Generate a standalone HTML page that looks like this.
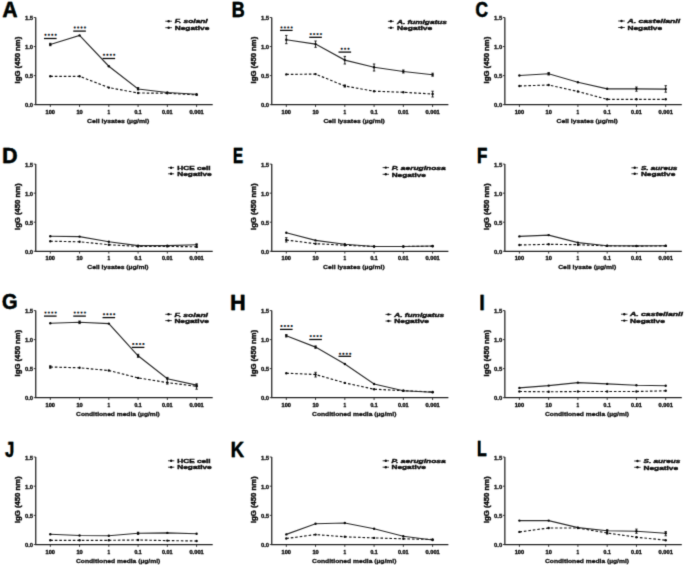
<!DOCTYPE html>
<html><head><meta charset="utf-8"><title>IgG ELISA panels</title>
<style>
html,body{margin:0;padding:0;background:#fff;}
body{width:685px;height:565px;overflow:hidden;}
svg{display:block;}
text{font-family:"Liberation Sans",sans-serif;font-weight:bold;fill:#111;}
.L{font-size:22.5px;fill:#000;stroke:#000;stroke-width:0.3px;}
.yl{font-size:4.5px;text-anchor:end;fill:#151515;stroke:#151515;stroke-width:0.3px;}
.xl{font-size:5.0px;text-anchor:middle;fill:#111;stroke:#111;stroke-width:0.35px;}
.xt{font-size:5.6px;fill:#111;stroke:#111;stroke-width:0.3px;}
.yt{font-size:7.1px;text-anchor:middle;fill:#111;stroke:#111;stroke-width:0.45px;}
.lg{font-size:5.9px;fill:#111;stroke:#111;stroke-width:0.4px;}
.it{font-style:italic;}
.ax{fill:none;stroke:#222;stroke-width:1.25;}
.tk{fill:none;stroke:#222;stroke-width:0.9;}
.sl{fill:none;stroke:#2a2a2a;stroke-width:1.15;}
.dl{fill:none;stroke:#151515;stroke-width:1.15;stroke-dasharray:2.6 1.9;}
.eb{fill:none;stroke:#111;stroke-width:0.9;}
.mk{fill:#0a0a0a;}
.sb{fill:none;stroke:#0a0a0a;stroke-width:1.3;}
.st{fill:#4a3a5a;}
.ls{fill:none;stroke:#222;stroke-width:0.9;}
</style></head>
<body><svg width="685" height="565" viewBox="0 0 685 565">
<defs><filter id="bl" x="0" y="0" width="685" height="565" filterUnits="userSpaceOnUse" color-interpolation-filters="sRGB"><feConvolveMatrix order="3" kernelMatrix="0.0143 0.0910 0.0143 0.0910 0.5785 0.0910 0.0143 0.0910 0.0143" edgeMode="duplicate"/></filter></defs>
<g filter="url(#bl)"><rect width="685" height="565" fill="#fff"/>
<g>
<text class="L" style="fill:#f0a050;stroke:#f0a050" transform="translate(1.78 16.5) scale(0.929 1)">A</text>
<text class="L" style="fill:#50b8f8;stroke:#50b8f8" transform="translate(2.98 16.5) scale(0.929 1)">A</text>
<text class="L" transform="translate(2.38 16.5) scale(0.929 1)">A</text>
<path class="ax" d="M35.75 17.5V104.65H212.7"/>
<path class="tk" d="M33.75 17.5H35.75M33.75 46.55H35.75M33.75 75.6H35.75M33.75 104.65H35.75M50.3 104.65V106.95M79.56 104.65V106.95M108.82 104.65V106.95M138.08 104.65V106.95M167.34 104.65V106.95M196.6 104.65V106.95"/>
<text class="yl" x="33.15" y="20.1" textLength="8.2" lengthAdjust="spacingAndGlyphs">1.5</text>
<text class="yl" x="33.15" y="49.15" textLength="8.2" lengthAdjust="spacingAndGlyphs">1.0</text>
<text class="yl" x="33.15" y="78.2" textLength="8.2" lengthAdjust="spacingAndGlyphs">0.5</text>
<text class="yl" x="33.15" y="107.25" textLength="8.2" lengthAdjust="spacingAndGlyphs">0.0</text>
<text class="xl" x="50.3" y="113.65" textLength="9.4" lengthAdjust="spacingAndGlyphs">100</text>
<text class="xl" x="79.56" y="113.65" textLength="6.3" lengthAdjust="spacingAndGlyphs">10</text>
<text class="xl" x="108.82" y="113.65" textLength="2.6" lengthAdjust="spacingAndGlyphs">1</text>
<text class="xl" x="138.08" y="113.65" textLength="7.2" lengthAdjust="spacingAndGlyphs">0.1</text>
<text class="xl" x="167.34" y="113.65" textLength="10.6" lengthAdjust="spacingAndGlyphs">0.01</text>
<text class="xl" x="196.6" y="113.65" textLength="14.3" lengthAdjust="spacingAndGlyphs">0.001</text>
<text class="xt" x="87" y="122.65" textLength="62.3" lengthAdjust="spacingAndGlyphs">Cell lysates (µg/ml)</text>
<text class="yt" transform="translate(20.05 60.08) rotate(-90)" x="0" y="0" textLength="46.6" lengthAdjust="spacingAndGlyphs">IgG (450 nm)</text>
<path class="dl" d="M50.3 76.3 L79.56 76.3 L108.82 87.6 L138.08 93 L167.34 93.2 L196.6 94.9"/>
<path class="sl" d="M50.3 44.5 L79.56 35.4 L108.82 66.2 L138.08 89 L167.34 92.5 L196.6 94.2"/>
<path class="eb" d="M50.3 43.3V45.7M49.1 43.3H51.5M49.1 45.7H51.5M138.08 87.5V89.9M136.88 87.5H139.28M136.88 89.9H139.28"/>
<circle class="mk" cx="50.3" cy="76.3" r="1.2"/>
<circle class="mk" cx="79.56" cy="76.3" r="1.2"/>
<circle class="mk" cx="108.82" cy="87.6" r="1.2"/>
<circle class="mk" cx="138.08" cy="93" r="1.2"/>
<circle class="mk" cx="167.34" cy="93.2" r="1.2"/>
<circle class="mk" cx="196.6" cy="94.9" r="1.2"/>
<circle class="mk" cx="50.3" cy="44.5" r="1.2"/>
<circle class="mk" cx="79.56" cy="35.4" r="1.2"/>
<circle class="mk" cx="108.82" cy="66.2" r="1.2"/>
<circle class="mk" cx="138.08" cy="89" r="1.2"/>
<circle class="mk" cx="167.34" cy="92.5" r="1.2"/>
<circle class="mk" cx="196.6" cy="94.2" r="1.2"/>
<path class="sb" d="M44 38.5H56.6"/>
<ellipse fill="#e8802a" cx="44.9" cy="34.8" rx="0.8" ry="1.0"/><ellipse fill="#28a8f0" cx="46.1" cy="34.8" rx="0.8" ry="1.0"/><ellipse fill="#1a0a1a" cx="45.5" cy="34.8" rx="0.7" ry="0.95"/>
<ellipse fill="#e8802a" cx="48.3" cy="34.8" rx="0.8" ry="1.0"/><ellipse fill="#28a8f0" cx="49.5" cy="34.8" rx="0.8" ry="1.0"/><ellipse fill="#1a0a1a" cx="48.9" cy="34.8" rx="0.7" ry="0.95"/>
<ellipse fill="#e8802a" cx="51.7" cy="34.8" rx="0.8" ry="1.0"/><ellipse fill="#28a8f0" cx="52.9" cy="34.8" rx="0.8" ry="1.0"/><ellipse fill="#1a0a1a" cx="52.3" cy="34.8" rx="0.7" ry="0.95"/>
<ellipse fill="#e8802a" cx="55.1" cy="34.8" rx="0.8" ry="1.0"/><ellipse fill="#28a8f0" cx="56.3" cy="34.8" rx="0.8" ry="1.0"/><ellipse fill="#1a0a1a" cx="55.7" cy="34.8" rx="0.7" ry="0.95"/>
<path class="sb" d="M73.26 31.1H85.86"/>
<ellipse fill="#e8802a" cx="74.16" cy="27.5" rx="0.8" ry="1.0"/><ellipse fill="#28a8f0" cx="75.36" cy="27.5" rx="0.8" ry="1.0"/><ellipse fill="#1a0a1a" cx="74.76" cy="27.5" rx="0.7" ry="0.95"/>
<ellipse fill="#e8802a" cx="77.56" cy="27.5" rx="0.8" ry="1.0"/><ellipse fill="#28a8f0" cx="78.76" cy="27.5" rx="0.8" ry="1.0"/><ellipse fill="#1a0a1a" cx="78.16" cy="27.5" rx="0.7" ry="0.95"/>
<ellipse fill="#e8802a" cx="80.96" cy="27.5" rx="0.8" ry="1.0"/><ellipse fill="#28a8f0" cx="82.16" cy="27.5" rx="0.8" ry="1.0"/><ellipse fill="#1a0a1a" cx="81.56" cy="27.5" rx="0.7" ry="0.95"/>
<ellipse fill="#e8802a" cx="84.36" cy="27.5" rx="0.8" ry="1.0"/><ellipse fill="#28a8f0" cx="85.56" cy="27.5" rx="0.8" ry="1.0"/><ellipse fill="#1a0a1a" cx="84.96" cy="27.5" rx="0.7" ry="0.95"/>
<path class="sb" d="M102.52 58.5H115.12"/>
<ellipse fill="#e8802a" cx="103.42" cy="54.8" rx="0.8" ry="1.0"/><ellipse fill="#28a8f0" cx="104.62" cy="54.8" rx="0.8" ry="1.0"/><ellipse fill="#1a0a1a" cx="104.02" cy="54.8" rx="0.7" ry="0.95"/>
<ellipse fill="#e8802a" cx="106.82" cy="54.8" rx="0.8" ry="1.0"/><ellipse fill="#28a8f0" cx="108.02" cy="54.8" rx="0.8" ry="1.0"/><ellipse fill="#1a0a1a" cx="107.42" cy="54.8" rx="0.7" ry="0.95"/>
<ellipse fill="#e8802a" cx="110.22" cy="54.8" rx="0.8" ry="1.0"/><ellipse fill="#28a8f0" cx="111.42" cy="54.8" rx="0.8" ry="1.0"/><ellipse fill="#1a0a1a" cx="110.82" cy="54.8" rx="0.7" ry="0.95"/>
<ellipse fill="#e8802a" cx="113.62" cy="54.8" rx="0.8" ry="1.0"/><ellipse fill="#28a8f0" cx="114.82" cy="54.8" rx="0.8" ry="1.0"/><ellipse fill="#1a0a1a" cx="114.22" cy="54.8" rx="0.7" ry="0.95"/>
<text class="lg it" x="174.8" y="23.4" textLength="32.9" lengthAdjust="spacingAndGlyphs">F. solani</text>
<text class="lg" x="174.8" y="29.9" textLength="34.5" lengthAdjust="spacingAndGlyphs">Negative</text>
<path class="ls" d="M165.3 21.2H172M165.3 27.7H172"/>
<circle class="mk" cx="168.65" cy="21.2" r="1.2"/><circle class="mk" cx="168.65" cy="27.7" r="1.2"/>
</g>
<g>
<text class="L" style="fill:#f0a050;stroke:#f0a050" transform="translate(231.17 16.7) scale(0.803 1)">B</text>
<text class="L" style="fill:#50b8f8;stroke:#50b8f8" transform="translate(232.37 16.7) scale(0.803 1)">B</text>
<text class="L" transform="translate(231.77 16.7) scale(0.803 1)">B</text>
<path class="ax" d="M271.75 17.5V104.65H448.4"/>
<path class="tk" d="M269.75 17.5H271.75M269.75 46.55H271.75M269.75 75.6H271.75M269.75 104.65H271.75M286.3 104.65V106.95M315.56 104.65V106.95M344.82 104.65V106.95M374.08 104.65V106.95M403.34 104.65V106.95M432.6 104.65V106.95"/>
<text class="yl" x="269.15" y="20.1" textLength="8.2" lengthAdjust="spacingAndGlyphs">1.5</text>
<text class="yl" x="269.15" y="49.15" textLength="8.2" lengthAdjust="spacingAndGlyphs">1.0</text>
<text class="yl" x="269.15" y="78.2" textLength="8.2" lengthAdjust="spacingAndGlyphs">0.5</text>
<text class="yl" x="269.15" y="107.25" textLength="8.2" lengthAdjust="spacingAndGlyphs">0.0</text>
<text class="xl" x="286.3" y="113.65" textLength="9.4" lengthAdjust="spacingAndGlyphs">100</text>
<text class="xl" x="315.56" y="113.65" textLength="6.3" lengthAdjust="spacingAndGlyphs">10</text>
<text class="xl" x="344.82" y="113.65" textLength="2.6" lengthAdjust="spacingAndGlyphs">1</text>
<text class="xl" x="374.08" y="113.65" textLength="7.2" lengthAdjust="spacingAndGlyphs">0.1</text>
<text class="xl" x="403.34" y="113.65" textLength="10.6" lengthAdjust="spacingAndGlyphs">0.01</text>
<text class="xl" x="432.6" y="113.65" textLength="14.3" lengthAdjust="spacingAndGlyphs">0.001</text>
<text class="xt" x="323.4" y="122.65" textLength="61.5" lengthAdjust="spacingAndGlyphs">Cell lysates (µg/ml)</text>
<text class="yt" transform="translate(256.05 60.08) rotate(-90)" x="0" y="0" textLength="46.6" lengthAdjust="spacingAndGlyphs">IgG (450 nm)</text>
<path class="dl" d="M286.3 74.4 L315.56 74.1 L344.82 86 L374.08 91.2 L403.34 92.3 L432.6 94"/>
<path class="sl" d="M286.3 39.7 L315.56 44.1 L344.82 60.1 L374.08 67.3 L403.34 71.5 L432.6 74.7"/>
<path class="eb" d="M286.3 35.4V43.7M285.1 35.4H287.5M285.1 43.7H287.5M315.56 41V47.3M314.36 41H316.76M314.36 47.3H316.76M344.82 56.4V64M343.62 56.4H346.02M343.62 64H346.02M374.08 64V71M372.88 64H375.28M372.88 71H375.28M403.34 70V73M402.14 70H404.54M402.14 73H404.54M432.6 73.2V76.2M431.4 73.2H433.8M431.4 76.2H433.8M432.6 91.2V97M431.4 91.2H433.8M431.4 97H433.8M344.82 85V87M343.62 85H346.02M343.62 87H346.02"/>
<circle class="mk" cx="286.3" cy="74.4" r="1.2"/>
<circle class="mk" cx="315.56" cy="74.1" r="1.2"/>
<circle class="mk" cx="344.82" cy="86" r="1.2"/>
<circle class="mk" cx="374.08" cy="91.2" r="1.2"/>
<circle class="mk" cx="403.34" cy="92.3" r="1.2"/>
<circle class="mk" cx="432.6" cy="94" r="1.2"/>
<circle class="mk" cx="286.3" cy="39.7" r="1.2"/>
<circle class="mk" cx="315.56" cy="44.1" r="1.2"/>
<circle class="mk" cx="344.82" cy="60.1" r="1.2"/>
<circle class="mk" cx="374.08" cy="67.3" r="1.2"/>
<circle class="mk" cx="403.34" cy="71.5" r="1.2"/>
<circle class="mk" cx="432.6" cy="74.7" r="1.2"/>
<path class="sb" d="M280 30.4H292.6"/>
<ellipse fill="#e8802a" cx="280.9" cy="27.4" rx="0.8" ry="1.0"/><ellipse fill="#28a8f0" cx="282.1" cy="27.4" rx="0.8" ry="1.0"/><ellipse fill="#1a0a1a" cx="281.5" cy="27.4" rx="0.7" ry="0.95"/>
<ellipse fill="#e8802a" cx="284.3" cy="27.4" rx="0.8" ry="1.0"/><ellipse fill="#28a8f0" cx="285.5" cy="27.4" rx="0.8" ry="1.0"/><ellipse fill="#1a0a1a" cx="284.9" cy="27.4" rx="0.7" ry="0.95"/>
<ellipse fill="#e8802a" cx="287.7" cy="27.4" rx="0.8" ry="1.0"/><ellipse fill="#28a8f0" cx="288.9" cy="27.4" rx="0.8" ry="1.0"/><ellipse fill="#1a0a1a" cx="288.3" cy="27.4" rx="0.7" ry="0.95"/>
<ellipse fill="#e8802a" cx="291.1" cy="27.4" rx="0.8" ry="1.0"/><ellipse fill="#28a8f0" cx="292.3" cy="27.4" rx="0.8" ry="1.0"/><ellipse fill="#1a0a1a" cx="291.7" cy="27.4" rx="0.7" ry="0.95"/>
<path class="sb" d="M309.26 37.3H321.86"/>
<ellipse fill="#e8802a" cx="310.16" cy="34.1" rx="0.8" ry="1.0"/><ellipse fill="#28a8f0" cx="311.36" cy="34.1" rx="0.8" ry="1.0"/><ellipse fill="#1a0a1a" cx="310.76" cy="34.1" rx="0.7" ry="0.95"/>
<ellipse fill="#e8802a" cx="313.56" cy="34.1" rx="0.8" ry="1.0"/><ellipse fill="#28a8f0" cx="314.76" cy="34.1" rx="0.8" ry="1.0"/><ellipse fill="#1a0a1a" cx="314.16" cy="34.1" rx="0.7" ry="0.95"/>
<ellipse fill="#e8802a" cx="316.96" cy="34.1" rx="0.8" ry="1.0"/><ellipse fill="#28a8f0" cx="318.16" cy="34.1" rx="0.8" ry="1.0"/><ellipse fill="#1a0a1a" cx="317.56" cy="34.1" rx="0.7" ry="0.95"/>
<ellipse fill="#e8802a" cx="320.36" cy="34.1" rx="0.8" ry="1.0"/><ellipse fill="#28a8f0" cx="321.56" cy="34.1" rx="0.8" ry="1.0"/><ellipse fill="#1a0a1a" cx="320.96" cy="34.1" rx="0.7" ry="0.95"/>
<path class="sb" d="M338.52 52.1H351.12"/>
<ellipse fill="#e8802a" cx="341.12" cy="48.8" rx="0.8" ry="1.0"/><ellipse fill="#28a8f0" cx="342.32" cy="48.8" rx="0.8" ry="1.0"/><ellipse fill="#1a0a1a" cx="341.72" cy="48.8" rx="0.7" ry="0.95"/>
<ellipse fill="#e8802a" cx="344.52" cy="48.8" rx="0.8" ry="1.0"/><ellipse fill="#28a8f0" cx="345.72" cy="48.8" rx="0.8" ry="1.0"/><ellipse fill="#1a0a1a" cx="345.12" cy="48.8" rx="0.7" ry="0.95"/>
<ellipse fill="#e8802a" cx="347.92" cy="48.8" rx="0.8" ry="1.0"/><ellipse fill="#28a8f0" cx="349.12" cy="48.8" rx="0.8" ry="1.0"/><ellipse fill="#1a0a1a" cx="348.52" cy="48.8" rx="0.7" ry="0.95"/>
<text class="lg it" x="397" y="23.5" textLength="49.8" lengthAdjust="spacingAndGlyphs">A. fumigatus</text>
<text class="lg" x="397" y="30" textLength="35.2" lengthAdjust="spacingAndGlyphs">Negative</text>
<path class="ls" d="M387.9 21.3H393.9M387.9 27.8H393.9"/>
<circle class="mk" cx="390.9" cy="21.3" r="1.2"/><circle class="mk" cx="390.9" cy="27.8" r="1.2"/>
</g>
<g>
<text class="L" style="fill:#f0a050;stroke:#f0a050" transform="translate(474.8 16.7) scale(0.774 1)">C</text>
<text class="L" style="fill:#50b8f8;stroke:#50b8f8" transform="translate(476 16.7) scale(0.774 1)">C</text>
<text class="L" transform="translate(475.4 16.7) scale(0.774 1)">C</text>
<path class="ax" d="M504.85 17.5V104.65H681.8"/>
<path class="tk" d="M502.85 17.5H504.85M502.85 46.55H504.85M502.85 75.6H504.85M502.85 104.65H504.85M519.4 104.65V106.95M548.66 104.65V106.95M577.92 104.65V106.95M607.18 104.65V106.95M636.44 104.65V106.95M665.7 104.65V106.95"/>
<text class="yl" x="502.25" y="20.1" textLength="8.2" lengthAdjust="spacingAndGlyphs">1.5</text>
<text class="yl" x="502.25" y="49.15" textLength="8.2" lengthAdjust="spacingAndGlyphs">1.0</text>
<text class="yl" x="502.25" y="78.2" textLength="8.2" lengthAdjust="spacingAndGlyphs">0.5</text>
<text class="yl" x="502.25" y="107.25" textLength="8.2" lengthAdjust="spacingAndGlyphs">0.0</text>
<text class="xl" x="519.4" y="113.65" textLength="9.4" lengthAdjust="spacingAndGlyphs">100</text>
<text class="xl" x="548.66" y="113.65" textLength="6.3" lengthAdjust="spacingAndGlyphs">10</text>
<text class="xl" x="577.92" y="113.65" textLength="2.6" lengthAdjust="spacingAndGlyphs">1</text>
<text class="xl" x="607.18" y="113.65" textLength="7.2" lengthAdjust="spacingAndGlyphs">0.1</text>
<text class="xl" x="636.44" y="113.65" textLength="10.6" lengthAdjust="spacingAndGlyphs">0.01</text>
<text class="xl" x="665.7" y="113.65" textLength="14.3" lengthAdjust="spacingAndGlyphs">0.001</text>
<text class="xt" x="556.6" y="122.65" textLength="61.2" lengthAdjust="spacingAndGlyphs">Cell lysates (µg/ml)</text>
<text class="yt" transform="translate(489.15 60.08) rotate(-90)" x="0" y="0" textLength="46.6" lengthAdjust="spacingAndGlyphs">IgG (450 nm)</text>
<path class="dl" d="M519.4 86 L548.66 85 L577.92 91.5 L607.18 99.3 L636.44 99.3 L665.7 99.3"/>
<path class="sl" d="M519.4 75.5 L548.66 73.8 L577.92 82.3 L607.18 88.8 L636.44 88.8 L665.7 89.1"/>
<path class="eb" d="M548.66 72.6V75M547.46 72.6H549.86M547.46 75H549.86M636.44 87V91.2M635.24 87H637.64M635.24 91.2H637.64M665.7 85.7V92.2M664.5 85.7H666.9M664.5 92.2H666.9"/>
<circle class="mk" cx="519.4" cy="86" r="1.2"/>
<circle class="mk" cx="548.66" cy="85" r="1.2"/>
<circle class="mk" cx="577.92" cy="91.5" r="1.2"/>
<circle class="mk" cx="607.18" cy="99.3" r="1.2"/>
<circle class="mk" cx="636.44" cy="99.3" r="1.2"/>
<circle class="mk" cx="665.7" cy="99.3" r="1.2"/>
<circle class="mk" cx="519.4" cy="75.5" r="1.2"/>
<circle class="mk" cx="548.66" cy="73.8" r="1.2"/>
<circle class="mk" cx="577.92" cy="82.3" r="1.2"/>
<circle class="mk" cx="607.18" cy="88.8" r="1.2"/>
<circle class="mk" cx="636.44" cy="88.8" r="1.2"/>
<circle class="mk" cx="665.7" cy="89.1" r="1.2"/>
<text class="lg it" x="627.5" y="23.2" textLength="52.6" lengthAdjust="spacingAndGlyphs">A. castellanii</text>
<text class="lg" x="627.5" y="29.7" textLength="34.5" lengthAdjust="spacingAndGlyphs">Negative</text>
<path class="ls" d="M618.2 21H624.8M618.2 27.5H624.8"/>
<circle class="mk" cx="621.5" cy="21" r="1.2"/><circle class="mk" cx="621.5" cy="27.5" r="1.2"/>
</g>
<g>
<text class="L" style="fill:#f0a050;stroke:#f0a050" transform="translate(1.56 163.3) scale(0.944 1)">D</text>
<text class="L" style="fill:#50b8f8;stroke:#50b8f8" transform="translate(2.76 163.3) scale(0.944 1)">D</text>
<text class="L" transform="translate(2.16 163.3) scale(0.944 1)">D</text>
<path class="ax" d="M35.75 164.1V251.25H212.7"/>
<path class="tk" d="M33.75 164.1H35.75M33.75 193.15H35.75M33.75 222.2H35.75M33.75 251.25H35.75M50.3 251.25V253.55M79.56 251.25V253.55M108.82 251.25V253.55M138.08 251.25V253.55M167.34 251.25V253.55M196.6 251.25V253.55"/>
<text class="yl" x="33.15" y="166.7" textLength="8.2" lengthAdjust="spacingAndGlyphs">1.5</text>
<text class="yl" x="33.15" y="195.75" textLength="8.2" lengthAdjust="spacingAndGlyphs">1.0</text>
<text class="yl" x="33.15" y="224.8" textLength="8.2" lengthAdjust="spacingAndGlyphs">0.5</text>
<text class="yl" x="33.15" y="253.85" textLength="8.2" lengthAdjust="spacingAndGlyphs">0.0</text>
<text class="xl" x="50.3" y="260.25" textLength="9.4" lengthAdjust="spacingAndGlyphs">100</text>
<text class="xl" x="79.56" y="260.25" textLength="6.3" lengthAdjust="spacingAndGlyphs">10</text>
<text class="xl" x="108.82" y="260.25" textLength="2.6" lengthAdjust="spacingAndGlyphs">1</text>
<text class="xl" x="138.08" y="260.25" textLength="7.2" lengthAdjust="spacingAndGlyphs">0.1</text>
<text class="xl" x="167.34" y="260.25" textLength="10.6" lengthAdjust="spacingAndGlyphs">0.01</text>
<text class="xl" x="196.6" y="260.25" textLength="14.3" lengthAdjust="spacingAndGlyphs">0.001</text>
<text class="xt" x="87.3" y="269.25" textLength="61.3" lengthAdjust="spacingAndGlyphs">Cell lysates (µg/ml)</text>
<text class="yt" transform="translate(20.05 206.68) rotate(-90)" x="0" y="0" textLength="46.6" lengthAdjust="spacingAndGlyphs">IgG (450 nm)</text>
<path class="dl" d="M50.3 241.2 L79.56 241.8 L108.82 244.7 L138.08 246.4 L167.34 246.4 L196.6 246.8"/>
<path class="sl" d="M50.3 236.2 L79.56 236.6 L108.82 241.8 L138.08 245.6 L167.34 245.6 L196.6 244.7"/>
<path class="eb" d="M196.6 244V247.3M195.4 244H197.8M195.4 247.3H197.8"/>
<circle class="mk" cx="50.3" cy="241.2" r="1.2"/>
<circle class="mk" cx="79.56" cy="241.8" r="1.2"/>
<circle class="mk" cx="108.82" cy="244.7" r="1.2"/>
<circle class="mk" cx="138.08" cy="246.4" r="1.2"/>
<circle class="mk" cx="167.34" cy="246.4" r="1.2"/>
<circle class="mk" cx="196.6" cy="246.8" r="1.2"/>
<circle class="mk" cx="50.3" cy="236.2" r="1.2"/>
<circle class="mk" cx="79.56" cy="236.6" r="1.2"/>
<circle class="mk" cx="108.82" cy="241.8" r="1.2"/>
<circle class="mk" cx="138.08" cy="245.6" r="1.2"/>
<circle class="mk" cx="167.34" cy="245.6" r="1.2"/>
<circle class="mk" cx="196.6" cy="244.7" r="1.2"/>
<text class="lg" x="177.3" y="169.9" textLength="33.3" lengthAdjust="spacingAndGlyphs">HCE cell</text>
<text class="lg" x="177.3" y="176" textLength="34.4" lengthAdjust="spacingAndGlyphs">Negative</text>
<path class="ls" d="M168.1 167.7H174.1M168.1 173.8H174.1"/>
<circle class="mk" cx="171.1" cy="167.7" r="1.2"/><circle class="mk" cx="171.1" cy="173.8" r="1.2"/>
</g>
<g>
<text class="L" style="fill:#f0a050;stroke:#f0a050" transform="translate(232.48 163.2) scale(0.668 1)">E</text>
<text class="L" style="fill:#50b8f8;stroke:#50b8f8" transform="translate(233.68 163.2) scale(0.668 1)">E</text>
<text class="L" transform="translate(233.08 163.2) scale(0.668 1)">E</text>
<path class="ax" d="M271.75 164.1V251.25H448.4"/>
<path class="tk" d="M269.75 164.1H271.75M269.75 193.15H271.75M269.75 222.2H271.75M269.75 251.25H271.75M286.3 251.25V253.55M315.56 251.25V253.55M344.82 251.25V253.55M374.08 251.25V253.55M403.34 251.25V253.55M432.6 251.25V253.55"/>
<text class="yl" x="269.15" y="166.7" textLength="8.2" lengthAdjust="spacingAndGlyphs">1.5</text>
<text class="yl" x="269.15" y="195.75" textLength="8.2" lengthAdjust="spacingAndGlyphs">1.0</text>
<text class="yl" x="269.15" y="224.8" textLength="8.2" lengthAdjust="spacingAndGlyphs">0.5</text>
<text class="yl" x="269.15" y="253.85" textLength="8.2" lengthAdjust="spacingAndGlyphs">0.0</text>
<text class="xl" x="286.3" y="260.25" textLength="9.4" lengthAdjust="spacingAndGlyphs">100</text>
<text class="xl" x="315.56" y="260.25" textLength="6.3" lengthAdjust="spacingAndGlyphs">10</text>
<text class="xl" x="344.82" y="260.25" textLength="2.6" lengthAdjust="spacingAndGlyphs">1</text>
<text class="xl" x="374.08" y="260.25" textLength="7.2" lengthAdjust="spacingAndGlyphs">0.1</text>
<text class="xl" x="403.34" y="260.25" textLength="10.6" lengthAdjust="spacingAndGlyphs">0.01</text>
<text class="xl" x="432.6" y="260.25" textLength="14.3" lengthAdjust="spacingAndGlyphs">0.001</text>
<text class="xt" x="323.1" y="269.25" textLength="61.6" lengthAdjust="spacingAndGlyphs">Cell lysates (µg/ml)</text>
<text class="yt" transform="translate(256.05 206.68) rotate(-90)" x="0" y="0" textLength="46.6" lengthAdjust="spacingAndGlyphs">IgG (450 nm)</text>
<path class="dl" d="M286.3 240 L315.56 243.7 L344.82 245.2 L374.08 246.5 L403.34 246.5 L432.6 246.2"/>
<path class="sl" d="M286.3 232.7 L315.56 240.4 L344.82 244.3 L374.08 246.5 L403.34 246.5 L432.6 246"/>
<path class="eb" d="M286.3 237.7V242M285.1 237.7H287.5M285.1 242H287.5"/>
<circle class="mk" cx="286.3" cy="240" r="1.2"/>
<circle class="mk" cx="315.56" cy="243.7" r="1.2"/>
<circle class="mk" cx="344.82" cy="245.2" r="1.2"/>
<circle class="mk" cx="374.08" cy="246.5" r="1.2"/>
<circle class="mk" cx="403.34" cy="246.5" r="1.2"/>
<circle class="mk" cx="432.6" cy="246.2" r="1.2"/>
<circle class="mk" cx="286.3" cy="232.7" r="1.2"/>
<circle class="mk" cx="315.56" cy="240.4" r="1.2"/>
<circle class="mk" cx="344.82" cy="244.3" r="1.2"/>
<circle class="mk" cx="374.08" cy="246.5" r="1.2"/>
<circle class="mk" cx="403.34" cy="246.5" r="1.2"/>
<circle class="mk" cx="432.6" cy="246" r="1.2"/>
<text class="lg it" x="391.7" y="169.8" textLength="54" lengthAdjust="spacingAndGlyphs">P. aeruginosa</text>
<text class="lg" x="391.7" y="176.5" textLength="34.1" lengthAdjust="spacingAndGlyphs">Negative</text>
<path class="ls" d="M382.6 167.6H389M382.6 174.3H389"/>
<circle class="mk" cx="385.8" cy="167.6" r="1.2"/><circle class="mk" cx="385.8" cy="174.3" r="1.2"/>
</g>
<g>
<text class="L" style="fill:#f0a050;stroke:#f0a050" transform="translate(476.35 163.2) scale(0.754 1)">F</text>
<text class="L" style="fill:#50b8f8;stroke:#50b8f8" transform="translate(477.55 163.2) scale(0.754 1)">F</text>
<text class="L" transform="translate(476.95 163.2) scale(0.754 1)">F</text>
<path class="ax" d="M504.85 164.1V251.25H681.8"/>
<path class="tk" d="M502.85 164.1H504.85M502.85 193.15H504.85M502.85 222.2H504.85M502.85 251.25H504.85M519.4 251.25V253.55M548.66 251.25V253.55M577.92 251.25V253.55M607.18 251.25V253.55M636.44 251.25V253.55M665.7 251.25V253.55"/>
<text class="yl" x="502.25" y="166.7" textLength="8.2" lengthAdjust="spacingAndGlyphs">1.5</text>
<text class="yl" x="502.25" y="195.75" textLength="8.2" lengthAdjust="spacingAndGlyphs">1.0</text>
<text class="yl" x="502.25" y="224.8" textLength="8.2" lengthAdjust="spacingAndGlyphs">0.5</text>
<text class="yl" x="502.25" y="253.85" textLength="8.2" lengthAdjust="spacingAndGlyphs">0.0</text>
<text class="xl" x="519.4" y="260.25" textLength="9.4" lengthAdjust="spacingAndGlyphs">100</text>
<text class="xl" x="548.66" y="260.25" textLength="6.3" lengthAdjust="spacingAndGlyphs">10</text>
<text class="xl" x="577.92" y="260.25" textLength="2.6" lengthAdjust="spacingAndGlyphs">1</text>
<text class="xl" x="607.18" y="260.25" textLength="7.2" lengthAdjust="spacingAndGlyphs">0.1</text>
<text class="xl" x="636.44" y="260.25" textLength="10.6" lengthAdjust="spacingAndGlyphs">0.01</text>
<text class="xl" x="665.7" y="260.25" textLength="14.3" lengthAdjust="spacingAndGlyphs">0.001</text>
<text class="xt" x="558.2" y="269.25" textLength="58" lengthAdjust="spacingAndGlyphs">Cell lysate (µg/ml)</text>
<text class="yt" transform="translate(489.15 206.68) rotate(-90)" x="0" y="0" textLength="46.6" lengthAdjust="spacingAndGlyphs">IgG (450 nm)</text>
<path class="dl" d="M519.4 245 L548.66 244.3 L577.92 244.7 L607.18 245.9 L636.44 246.1 L665.7 245.9"/>
<path class="sl" d="M519.4 236.4 L548.66 235.1 L577.92 242.6 L607.18 245.7 L636.44 245.9 L665.7 245.7"/>
<circle class="mk" cx="519.4" cy="245" r="1.2"/>
<circle class="mk" cx="548.66" cy="244.3" r="1.2"/>
<circle class="mk" cx="577.92" cy="244.7" r="1.2"/>
<circle class="mk" cx="607.18" cy="245.9" r="1.2"/>
<circle class="mk" cx="636.44" cy="246.1" r="1.2"/>
<circle class="mk" cx="665.7" cy="245.9" r="1.2"/>
<circle class="mk" cx="519.4" cy="236.4" r="1.2"/>
<circle class="mk" cx="548.66" cy="235.1" r="1.2"/>
<circle class="mk" cx="577.92" cy="242.6" r="1.2"/>
<circle class="mk" cx="607.18" cy="245.7" r="1.2"/>
<circle class="mk" cx="636.44" cy="245.9" r="1.2"/>
<circle class="mk" cx="665.7" cy="245.7" r="1.2"/>
<text class="lg it" x="640.9" y="170" textLength="36.5" lengthAdjust="spacingAndGlyphs">S. aureus</text>
<text class="lg" x="640.9" y="176" textLength="34.4" lengthAdjust="spacingAndGlyphs">Negative</text>
<path class="ls" d="M631.4 167.8H638M631.4 173.8H638"/>
<circle class="mk" cx="634.7" cy="167.8" r="1.2"/><circle class="mk" cx="634.7" cy="173.8" r="1.2"/>
</g>
<g>
<text class="L" style="fill:#f0a050;stroke:#f0a050" transform="translate(1.3 309.3) scale(0.889 1)">G</text>
<text class="L" style="fill:#50b8f8;stroke:#50b8f8" transform="translate(2.5 309.3) scale(0.889 1)">G</text>
<text class="L" transform="translate(1.9 309.3) scale(0.889 1)">G</text>
<path class="ax" d="M35.75 310.6V397.65H212.7"/>
<path class="tk" d="M33.75 310.6H35.75M33.75 339.62H35.75M33.75 368.63H35.75M33.75 397.65H35.75M50.3 397.65V399.95M79.56 397.65V399.95M108.82 397.65V399.95M138.08 397.65V399.95M167.34 397.65V399.95M196.6 397.65V399.95"/>
<text class="yl" x="33.15" y="313.2" textLength="8.2" lengthAdjust="spacingAndGlyphs">1.5</text>
<text class="yl" x="33.15" y="342.22" textLength="8.2" lengthAdjust="spacingAndGlyphs">1.0</text>
<text class="yl" x="33.15" y="371.23" textLength="8.2" lengthAdjust="spacingAndGlyphs">0.5</text>
<text class="yl" x="33.15" y="400.25" textLength="8.2" lengthAdjust="spacingAndGlyphs">0.0</text>
<text class="xl" x="50.3" y="406.65" textLength="9.4" lengthAdjust="spacingAndGlyphs">100</text>
<text class="xl" x="79.56" y="406.65" textLength="6.3" lengthAdjust="spacingAndGlyphs">10</text>
<text class="xl" x="108.82" y="406.65" textLength="2.6" lengthAdjust="spacingAndGlyphs">1</text>
<text class="xl" x="138.08" y="406.65" textLength="7.2" lengthAdjust="spacingAndGlyphs">0.1</text>
<text class="xl" x="167.34" y="406.65" textLength="10.6" lengthAdjust="spacingAndGlyphs">0.01</text>
<text class="xl" x="196.6" y="406.65" textLength="14.3" lengthAdjust="spacingAndGlyphs">0.001</text>
<text class="xt" x="76.1" y="415.65" textLength="83.7" lengthAdjust="spacingAndGlyphs">Conditioned media (µg/ml)</text>
<text class="yt" transform="translate(20.05 353.12) rotate(-90)" x="0" y="0" textLength="46.6" lengthAdjust="spacingAndGlyphs">IgG (450 nm)</text>
<path class="dl" d="M50.3 367 L79.56 367.8 L108.82 370.5 L138.08 377.9 L167.34 382.6 L196.6 386.3"/>
<path class="sl" d="M50.3 323.2 L79.56 322.3 L108.82 323.6 L138.08 355.8 L167.34 378.8 L196.6 385.1"/>
<path class="eb" d="M79.56 321V323.6M78.36 321H80.76M78.36 323.6H80.76M138.08 354.3V357.3M136.88 354.3H139.28M136.88 357.3H139.28M167.34 377.4V384.1M166.14 377.4H168.54M166.14 384.1H168.54M196.6 383.8V389.2M195.4 383.8H197.8M195.4 389.2H197.8M50.3 365.8V368.2M49.1 365.8H51.5M49.1 368.2H51.5"/>
<circle class="mk" cx="50.3" cy="367" r="1.2"/>
<circle class="mk" cx="79.56" cy="367.8" r="1.2"/>
<circle class="mk" cx="108.82" cy="370.5" r="1.2"/>
<circle class="mk" cx="138.08" cy="377.9" r="1.2"/>
<circle class="mk" cx="167.34" cy="382.6" r="1.2"/>
<circle class="mk" cx="196.6" cy="386.3" r="1.2"/>
<circle class="mk" cx="50.3" cy="323.2" r="1.2"/>
<circle class="mk" cx="79.56" cy="322.3" r="1.2"/>
<circle class="mk" cx="108.82" cy="323.6" r="1.2"/>
<circle class="mk" cx="138.08" cy="355.8" r="1.2"/>
<circle class="mk" cx="167.34" cy="378.8" r="1.2"/>
<circle class="mk" cx="196.6" cy="385.1" r="1.2"/>
<path class="sb" d="M44 316.1H56.6"/>
<ellipse fill="#e8802a" cx="44.9" cy="312.6" rx="0.8" ry="1.0"/><ellipse fill="#28a8f0" cx="46.1" cy="312.6" rx="0.8" ry="1.0"/><ellipse fill="#1a0a1a" cx="45.5" cy="312.6" rx="0.7" ry="0.95"/>
<ellipse fill="#e8802a" cx="48.3" cy="312.6" rx="0.8" ry="1.0"/><ellipse fill="#28a8f0" cx="49.5" cy="312.6" rx="0.8" ry="1.0"/><ellipse fill="#1a0a1a" cx="48.9" cy="312.6" rx="0.7" ry="0.95"/>
<ellipse fill="#e8802a" cx="51.7" cy="312.6" rx="0.8" ry="1.0"/><ellipse fill="#28a8f0" cx="52.9" cy="312.6" rx="0.8" ry="1.0"/><ellipse fill="#1a0a1a" cx="52.3" cy="312.6" rx="0.7" ry="0.95"/>
<ellipse fill="#e8802a" cx="55.1" cy="312.6" rx="0.8" ry="1.0"/><ellipse fill="#28a8f0" cx="56.3" cy="312.6" rx="0.8" ry="1.0"/><ellipse fill="#1a0a1a" cx="55.7" cy="312.6" rx="0.7" ry="0.95"/>
<path class="sb" d="M73.26 316.1H85.86"/>
<ellipse fill="#e8802a" cx="74.16" cy="312.6" rx="0.8" ry="1.0"/><ellipse fill="#28a8f0" cx="75.36" cy="312.6" rx="0.8" ry="1.0"/><ellipse fill="#1a0a1a" cx="74.76" cy="312.6" rx="0.7" ry="0.95"/>
<ellipse fill="#e8802a" cx="77.56" cy="312.6" rx="0.8" ry="1.0"/><ellipse fill="#28a8f0" cx="78.76" cy="312.6" rx="0.8" ry="1.0"/><ellipse fill="#1a0a1a" cx="78.16" cy="312.6" rx="0.7" ry="0.95"/>
<ellipse fill="#e8802a" cx="80.96" cy="312.6" rx="0.8" ry="1.0"/><ellipse fill="#28a8f0" cx="82.16" cy="312.6" rx="0.8" ry="1.0"/><ellipse fill="#1a0a1a" cx="81.56" cy="312.6" rx="0.7" ry="0.95"/>
<ellipse fill="#e8802a" cx="84.36" cy="312.6" rx="0.8" ry="1.0"/><ellipse fill="#28a8f0" cx="85.56" cy="312.6" rx="0.8" ry="1.0"/><ellipse fill="#1a0a1a" cx="84.96" cy="312.6" rx="0.7" ry="0.95"/>
<path class="sb" d="M102.52 317.6H115.12"/>
<ellipse fill="#e8802a" cx="103.42" cy="314.3" rx="0.8" ry="1.0"/><ellipse fill="#28a8f0" cx="104.62" cy="314.3" rx="0.8" ry="1.0"/><ellipse fill="#1a0a1a" cx="104.02" cy="314.3" rx="0.7" ry="0.95"/>
<ellipse fill="#e8802a" cx="106.82" cy="314.3" rx="0.8" ry="1.0"/><ellipse fill="#28a8f0" cx="108.02" cy="314.3" rx="0.8" ry="1.0"/><ellipse fill="#1a0a1a" cx="107.42" cy="314.3" rx="0.7" ry="0.95"/>
<ellipse fill="#e8802a" cx="110.22" cy="314.3" rx="0.8" ry="1.0"/><ellipse fill="#28a8f0" cx="111.42" cy="314.3" rx="0.8" ry="1.0"/><ellipse fill="#1a0a1a" cx="110.82" cy="314.3" rx="0.7" ry="0.95"/>
<ellipse fill="#e8802a" cx="113.62" cy="314.3" rx="0.8" ry="1.0"/><ellipse fill="#28a8f0" cx="114.82" cy="314.3" rx="0.8" ry="1.0"/><ellipse fill="#1a0a1a" cx="114.22" cy="314.3" rx="0.7" ry="0.95"/>
<path class="sb" d="M131.78 347.4H144.38"/>
<ellipse fill="#e8802a" cx="132.68" cy="343.9" rx="0.8" ry="1.0"/><ellipse fill="#28a8f0" cx="133.88" cy="343.9" rx="0.8" ry="1.0"/><ellipse fill="#1a0a1a" cx="133.28" cy="343.9" rx="0.7" ry="0.95"/>
<ellipse fill="#e8802a" cx="136.08" cy="343.9" rx="0.8" ry="1.0"/><ellipse fill="#28a8f0" cx="137.28" cy="343.9" rx="0.8" ry="1.0"/><ellipse fill="#1a0a1a" cx="136.68" cy="343.9" rx="0.7" ry="0.95"/>
<ellipse fill="#e8802a" cx="139.48" cy="343.9" rx="0.8" ry="1.0"/><ellipse fill="#28a8f0" cx="140.68" cy="343.9" rx="0.8" ry="1.0"/><ellipse fill="#1a0a1a" cx="140.08" cy="343.9" rx="0.7" ry="0.95"/>
<ellipse fill="#e8802a" cx="142.88" cy="343.9" rx="0.8" ry="1.0"/><ellipse fill="#28a8f0" cx="144.08" cy="343.9" rx="0.8" ry="1.0"/><ellipse fill="#1a0a1a" cx="143.48" cy="343.9" rx="0.7" ry="0.95"/>
<text class="lg it" x="174.4" y="316.5" textLength="33.6" lengthAdjust="spacingAndGlyphs">F. solani</text>
<text class="lg" x="174.4" y="322.8" textLength="34.5" lengthAdjust="spacingAndGlyphs">Negative</text>
<path class="ls" d="M165.3 314.3H171.8M165.3 320.6H171.8"/>
<circle class="mk" cx="168.55" cy="314.3" r="1.2"/><circle class="mk" cx="168.55" cy="320.6" r="1.2"/>
</g>
<g>
<text class="L" style="fill:#f0a050;stroke:#f0a050" transform="translate(229.55 309.9) scale(0.946 1)">H</text>
<text class="L" style="fill:#50b8f8;stroke:#50b8f8" transform="translate(230.75 309.9) scale(0.946 1)">H</text>
<text class="L" transform="translate(230.15 309.9) scale(0.946 1)">H</text>
<path class="ax" d="M271.75 310.6V397.65H448.4"/>
<path class="tk" d="M269.75 310.6H271.75M269.75 339.62H271.75M269.75 368.63H271.75M269.75 397.65H271.75M286.3 397.65V399.95M315.56 397.65V399.95M344.82 397.65V399.95M374.08 397.65V399.95M403.34 397.65V399.95M432.6 397.65V399.95"/>
<text class="yl" x="269.15" y="313.2" textLength="8.2" lengthAdjust="spacingAndGlyphs">1.5</text>
<text class="yl" x="269.15" y="342.22" textLength="8.2" lengthAdjust="spacingAndGlyphs">1.0</text>
<text class="yl" x="269.15" y="371.23" textLength="8.2" lengthAdjust="spacingAndGlyphs">0.5</text>
<text class="yl" x="269.15" y="400.25" textLength="8.2" lengthAdjust="spacingAndGlyphs">0.0</text>
<text class="xl" x="286.3" y="406.65" textLength="9.4" lengthAdjust="spacingAndGlyphs">100</text>
<text class="xl" x="315.56" y="406.65" textLength="6.3" lengthAdjust="spacingAndGlyphs">10</text>
<text class="xl" x="344.82" y="406.65" textLength="2.6" lengthAdjust="spacingAndGlyphs">1</text>
<text class="xl" x="374.08" y="406.65" textLength="7.2" lengthAdjust="spacingAndGlyphs">0.1</text>
<text class="xl" x="403.34" y="406.65" textLength="10.6" lengthAdjust="spacingAndGlyphs">0.01</text>
<text class="xl" x="432.6" y="406.65" textLength="14.3" lengthAdjust="spacingAndGlyphs">0.001</text>
<text class="xt" x="312.1" y="415.65" textLength="84.3" lengthAdjust="spacingAndGlyphs">Conditioned media (µg/ml)</text>
<text class="yt" transform="translate(256.05 353.12) rotate(-90)" x="0" y="0" textLength="46.6" lengthAdjust="spacingAndGlyphs">IgG (450 nm)</text>
<path class="dl" d="M286.3 373.2 L315.56 374.5 L344.82 382.9 L374.08 389.2 L403.34 390.7 L432.6 392"/>
<path class="sl" d="M286.3 335.8 L315.56 347.1 L344.82 364 L374.08 384 L403.34 390.7 L432.6 392.3"/>
<path class="eb" d="M286.3 334.6V337M285.1 334.6H287.5M285.1 337H287.5M315.56 345.9V348.3M314.36 345.9H316.76M314.36 348.3H316.76M315.56 372.3V377M314.36 372.3H316.76M314.36 377H316.76"/>
<circle class="mk" cx="286.3" cy="373.2" r="1.2"/>
<circle class="mk" cx="315.56" cy="374.5" r="1.2"/>
<circle class="mk" cx="344.82" cy="382.9" r="1.2"/>
<circle class="mk" cx="374.08" cy="389.2" r="1.2"/>
<circle class="mk" cx="403.34" cy="390.7" r="1.2"/>
<circle class="mk" cx="432.6" cy="392" r="1.2"/>
<circle class="mk" cx="286.3" cy="335.8" r="1.2"/>
<circle class="mk" cx="315.56" cy="347.1" r="1.2"/>
<circle class="mk" cx="344.82" cy="364" r="1.2"/>
<circle class="mk" cx="374.08" cy="384" r="1.2"/>
<circle class="mk" cx="403.34" cy="390.7" r="1.2"/>
<circle class="mk" cx="432.6" cy="392.3" r="1.2"/>
<path class="sb" d="M280 329.4H292.6"/>
<ellipse fill="#e8802a" cx="280.9" cy="326" rx="0.8" ry="1.0"/><ellipse fill="#28a8f0" cx="282.1" cy="326" rx="0.8" ry="1.0"/><ellipse fill="#1a0a1a" cx="281.5" cy="326" rx="0.7" ry="0.95"/>
<ellipse fill="#e8802a" cx="284.3" cy="326" rx="0.8" ry="1.0"/><ellipse fill="#28a8f0" cx="285.5" cy="326" rx="0.8" ry="1.0"/><ellipse fill="#1a0a1a" cx="284.9" cy="326" rx="0.7" ry="0.95"/>
<ellipse fill="#e8802a" cx="287.7" cy="326" rx="0.8" ry="1.0"/><ellipse fill="#28a8f0" cx="288.9" cy="326" rx="0.8" ry="1.0"/><ellipse fill="#1a0a1a" cx="288.3" cy="326" rx="0.7" ry="0.95"/>
<ellipse fill="#e8802a" cx="291.1" cy="326" rx="0.8" ry="1.0"/><ellipse fill="#28a8f0" cx="292.3" cy="326" rx="0.8" ry="1.0"/><ellipse fill="#1a0a1a" cx="291.7" cy="326" rx="0.7" ry="0.95"/>
<path class="sb" d="M309.26 339.5H321.86"/>
<ellipse fill="#e8802a" cx="310.16" cy="336.1" rx="0.8" ry="1.0"/><ellipse fill="#28a8f0" cx="311.36" cy="336.1" rx="0.8" ry="1.0"/><ellipse fill="#1a0a1a" cx="310.76" cy="336.1" rx="0.7" ry="0.95"/>
<ellipse fill="#e8802a" cx="313.56" cy="336.1" rx="0.8" ry="1.0"/><ellipse fill="#28a8f0" cx="314.76" cy="336.1" rx="0.8" ry="1.0"/><ellipse fill="#1a0a1a" cx="314.16" cy="336.1" rx="0.7" ry="0.95"/>
<ellipse fill="#e8802a" cx="316.96" cy="336.1" rx="0.8" ry="1.0"/><ellipse fill="#28a8f0" cx="318.16" cy="336.1" rx="0.8" ry="1.0"/><ellipse fill="#1a0a1a" cx="317.56" cy="336.1" rx="0.7" ry="0.95"/>
<ellipse fill="#e8802a" cx="320.36" cy="336.1" rx="0.8" ry="1.0"/><ellipse fill="#28a8f0" cx="321.56" cy="336.1" rx="0.8" ry="1.0"/><ellipse fill="#1a0a1a" cx="320.96" cy="336.1" rx="0.7" ry="0.95"/>
<path class="sb" d="M338.52 356.3H351.12"/>
<ellipse fill="#e8802a" cx="339.42" cy="353.8" rx="0.8" ry="1.0"/><ellipse fill="#28a8f0" cx="340.62" cy="353.8" rx="0.8" ry="1.0"/><ellipse fill="#1a0a1a" cx="340.02" cy="353.8" rx="0.7" ry="0.95"/>
<ellipse fill="#e8802a" cx="342.82" cy="353.8" rx="0.8" ry="1.0"/><ellipse fill="#28a8f0" cx="344.02" cy="353.8" rx="0.8" ry="1.0"/><ellipse fill="#1a0a1a" cx="343.42" cy="353.8" rx="0.7" ry="0.95"/>
<ellipse fill="#e8802a" cx="346.22" cy="353.8" rx="0.8" ry="1.0"/><ellipse fill="#28a8f0" cx="347.42" cy="353.8" rx="0.8" ry="1.0"/><ellipse fill="#1a0a1a" cx="346.82" cy="353.8" rx="0.7" ry="0.95"/>
<ellipse fill="#e8802a" cx="349.62" cy="353.8" rx="0.8" ry="1.0"/><ellipse fill="#28a8f0" cx="350.82" cy="353.8" rx="0.8" ry="1.0"/><ellipse fill="#1a0a1a" cx="350.22" cy="353.8" rx="0.7" ry="0.95"/>
<text class="lg it" x="394.3" y="316.6" textLength="49.9" lengthAdjust="spacingAndGlyphs">A. fumigatus</text>
<text class="lg" x="394.3" y="323.2" textLength="34.7" lengthAdjust="spacingAndGlyphs">Negative</text>
<path class="ls" d="M385.5 314.4H391.4M385.5 321H391.4"/>
<circle class="mk" cx="388.45" cy="314.4" r="1.2"/><circle class="mk" cx="388.45" cy="321" r="1.2"/>
</g>
<g>
<text class="L" style="fill:#f0a050;stroke:#f0a050" transform="translate(478.95 309.7) scale(0.814 1)">I</text>
<text class="L" style="fill:#50b8f8;stroke:#50b8f8" transform="translate(480.15 309.7) scale(0.814 1)">I</text>
<text class="L" transform="translate(479.55 309.7) scale(0.814 1)">I</text>
<path class="ax" d="M504.85 310.6V397.65H681.8"/>
<path class="tk" d="M502.85 310.6H504.85M502.85 339.62H504.85M502.85 368.63H504.85M502.85 397.65H504.85M519.4 397.65V399.95M548.66 397.65V399.95M577.92 397.65V399.95M607.18 397.65V399.95M636.44 397.65V399.95M665.7 397.65V399.95"/>
<text class="yl" x="502.25" y="313.2" textLength="8.2" lengthAdjust="spacingAndGlyphs">1.5</text>
<text class="yl" x="502.25" y="342.22" textLength="8.2" lengthAdjust="spacingAndGlyphs">1.0</text>
<text class="yl" x="502.25" y="371.23" textLength="8.2" lengthAdjust="spacingAndGlyphs">0.5</text>
<text class="yl" x="502.25" y="400.25" textLength="8.2" lengthAdjust="spacingAndGlyphs">0.0</text>
<text class="xl" x="519.4" y="406.65" textLength="9.4" lengthAdjust="spacingAndGlyphs">100</text>
<text class="xl" x="548.66" y="406.65" textLength="6.3" lengthAdjust="spacingAndGlyphs">10</text>
<text class="xl" x="577.92" y="406.65" textLength="2.6" lengthAdjust="spacingAndGlyphs">1</text>
<text class="xl" x="607.18" y="406.65" textLength="7.2" lengthAdjust="spacingAndGlyphs">0.1</text>
<text class="xl" x="636.44" y="406.65" textLength="10.6" lengthAdjust="spacingAndGlyphs">0.01</text>
<text class="xl" x="665.7" y="406.65" textLength="14.3" lengthAdjust="spacingAndGlyphs">0.001</text>
<text class="xt" x="545" y="415.65" textLength="84" lengthAdjust="spacingAndGlyphs">Conditioned media (µg/ml)</text>
<text class="yt" transform="translate(489.15 353.12) rotate(-90)" x="0" y="0" textLength="46.6" lengthAdjust="spacingAndGlyphs">IgG (450 nm)</text>
<path class="dl" d="M519.4 391.5 L548.66 391.8 L577.92 391.5 L607.18 391.5 L636.44 391.5 L665.7 390.8"/>
<path class="sl" d="M519.4 387.9 L548.66 385.6 L577.92 382.6 L607.18 383.9 L636.44 385.2 L665.7 385.8"/>
<circle class="mk" cx="519.4" cy="391.5" r="1.2"/>
<circle class="mk" cx="548.66" cy="391.8" r="1.2"/>
<circle class="mk" cx="577.92" cy="391.5" r="1.2"/>
<circle class="mk" cx="607.18" cy="391.5" r="1.2"/>
<circle class="mk" cx="636.44" cy="391.5" r="1.2"/>
<circle class="mk" cx="665.7" cy="390.8" r="1.2"/>
<circle class="mk" cx="519.4" cy="387.9" r="1.2"/>
<circle class="mk" cx="548.66" cy="385.6" r="1.2"/>
<circle class="mk" cx="577.92" cy="382.6" r="1.2"/>
<circle class="mk" cx="607.18" cy="383.9" r="1.2"/>
<circle class="mk" cx="636.44" cy="385.2" r="1.2"/>
<circle class="mk" cx="665.7" cy="385.8" r="1.2"/>
<text class="lg it" x="630" y="316.4" textLength="52.8" lengthAdjust="spacingAndGlyphs">A. castellanii</text>
<text class="lg" x="630" y="322.8" textLength="34.8" lengthAdjust="spacingAndGlyphs">Negative</text>
<path class="ls" d="M621 314.2H627.5M621 320.6H627.5"/>
<circle class="mk" cx="624.25" cy="314.2" r="1.2"/><circle class="mk" cx="624.25" cy="320.6" r="1.2"/>
</g>
<g>
<text class="L" style="fill:#f0a050;stroke:#f0a050" transform="translate(4.56 456.5) scale(0.716 1)">J</text>
<text class="L" style="fill:#50b8f8;stroke:#50b8f8" transform="translate(5.76 456.5) scale(0.716 1)">J</text>
<text class="L" transform="translate(5.16 456.5) scale(0.716 1)">J</text>
<path class="ax" d="M35.75 457V544.55H212.7"/>
<path class="tk" d="M33.75 457H35.75M33.75 486.18H35.75M33.75 515.37H35.75M33.75 544.55H35.75M50.3 544.55V546.85M79.56 544.55V546.85M108.82 544.55V546.85M138.08 544.55V546.85M167.34 544.55V546.85M196.6 544.55V546.85"/>
<text class="yl" x="33.15" y="459.6" textLength="8.2" lengthAdjust="spacingAndGlyphs">1.5</text>
<text class="yl" x="33.15" y="488.78" textLength="8.2" lengthAdjust="spacingAndGlyphs">1.0</text>
<text class="yl" x="33.15" y="517.97" textLength="8.2" lengthAdjust="spacingAndGlyphs">0.5</text>
<text class="yl" x="33.15" y="547.15" textLength="8.2" lengthAdjust="spacingAndGlyphs">0.0</text>
<text class="xl" x="50.3" y="553.55" textLength="9.4" lengthAdjust="spacingAndGlyphs">100</text>
<text class="xl" x="79.56" y="553.55" textLength="6.3" lengthAdjust="spacingAndGlyphs">10</text>
<text class="xl" x="108.82" y="553.55" textLength="2.6" lengthAdjust="spacingAndGlyphs">1</text>
<text class="xl" x="138.08" y="553.55" textLength="7.2" lengthAdjust="spacingAndGlyphs">0.1</text>
<text class="xl" x="167.34" y="553.55" textLength="10.6" lengthAdjust="spacingAndGlyphs">0.01</text>
<text class="xl" x="196.6" y="553.55" textLength="14.3" lengthAdjust="spacingAndGlyphs">0.001</text>
<text class="xt" x="76" y="562.55" textLength="84.3" lengthAdjust="spacingAndGlyphs">Conditioned media (µg/ml)</text>
<text class="yt" transform="translate(20.05 499.77) rotate(-90)" x="0" y="0" textLength="46.6" lengthAdjust="spacingAndGlyphs">IgG (450 nm)</text>
<path class="dl" d="M50.3 540.3 L79.56 540.3 L108.82 540.3 L138.08 540 L167.34 540.6 L196.6 541"/>
<path class="sl" d="M50.3 534.2 L79.56 535.5 L108.82 535.7 L138.08 533.3 L167.34 532.9 L196.6 533.8"/>
<path class="eb" d="M138.08 532.2V534.4M136.88 532.2H139.28M136.88 534.4H139.28"/>
<circle class="mk" cx="50.3" cy="540.3" r="1.2"/>
<circle class="mk" cx="79.56" cy="540.3" r="1.2"/>
<circle class="mk" cx="108.82" cy="540.3" r="1.2"/>
<circle class="mk" cx="138.08" cy="540" r="1.2"/>
<circle class="mk" cx="167.34" cy="540.6" r="1.2"/>
<circle class="mk" cx="196.6" cy="541" r="1.2"/>
<circle class="mk" cx="50.3" cy="534.2" r="1.2"/>
<circle class="mk" cx="79.56" cy="535.5" r="1.2"/>
<circle class="mk" cx="108.82" cy="535.7" r="1.2"/>
<circle class="mk" cx="138.08" cy="533.3" r="1.2"/>
<circle class="mk" cx="167.34" cy="532.9" r="1.2"/>
<circle class="mk" cx="196.6" cy="533.8" r="1.2"/>
<text class="lg" x="177.3" y="463" textLength="33.3" lengthAdjust="spacingAndGlyphs">HCE cell</text>
<text class="lg" x="177.3" y="469.4" textLength="34.4" lengthAdjust="spacingAndGlyphs">Negative</text>
<path class="ls" d="M168 460.8H174.3M168 467.2H174.3"/>
<circle class="mk" cx="171.15" cy="460.8" r="1.2"/><circle class="mk" cx="171.15" cy="467.2" r="1.2"/>
</g>
<g>
<text class="L" style="fill:#f0a050;stroke:#f0a050" transform="translate(230.15 456.5) scale(0.820 1)">K</text>
<text class="L" style="fill:#50b8f8;stroke:#50b8f8" transform="translate(231.35 456.5) scale(0.820 1)">K</text>
<text class="L" transform="translate(230.75 456.5) scale(0.820 1)">K</text>
<path class="ax" d="M271.75 457V544.55H448.4"/>
<path class="tk" d="M269.75 457H271.75M269.75 486.18H271.75M269.75 515.37H271.75M269.75 544.55H271.75M286.3 544.55V546.85M315.56 544.55V546.85M344.82 544.55V546.85M374.08 544.55V546.85M403.34 544.55V546.85M432.6 544.55V546.85"/>
<text class="yl" x="269.15" y="459.6" textLength="8.2" lengthAdjust="spacingAndGlyphs">1.5</text>
<text class="yl" x="269.15" y="488.78" textLength="8.2" lengthAdjust="spacingAndGlyphs">1.0</text>
<text class="yl" x="269.15" y="517.97" textLength="8.2" lengthAdjust="spacingAndGlyphs">0.5</text>
<text class="yl" x="269.15" y="547.15" textLength="8.2" lengthAdjust="spacingAndGlyphs">0.0</text>
<text class="xl" x="286.3" y="553.55" textLength="9.4" lengthAdjust="spacingAndGlyphs">100</text>
<text class="xl" x="315.56" y="553.55" textLength="6.3" lengthAdjust="spacingAndGlyphs">10</text>
<text class="xl" x="344.82" y="553.55" textLength="2.6" lengthAdjust="spacingAndGlyphs">1</text>
<text class="xl" x="374.08" y="553.55" textLength="7.2" lengthAdjust="spacingAndGlyphs">0.1</text>
<text class="xl" x="403.34" y="553.55" textLength="10.6" lengthAdjust="spacingAndGlyphs">0.01</text>
<text class="xl" x="432.6" y="553.55" textLength="14.3" lengthAdjust="spacingAndGlyphs">0.001</text>
<text class="xt" x="312.1" y="562.55" textLength="84.3" lengthAdjust="spacingAndGlyphs">Conditioned media (µg/ml)</text>
<text class="yt" transform="translate(256.05 499.77) rotate(-90)" x="0" y="0" textLength="46.6" lengthAdjust="spacingAndGlyphs">IgG (450 nm)</text>
<path class="dl" d="M286.3 538.5 L315.56 534.6 L344.82 536.8 L374.08 537.9 L403.34 538.8 L432.6 539.5"/>
<path class="sl" d="M286.3 534.4 L315.56 523.7 L344.82 523 L374.08 528.7 L403.34 536.3 L432.6 540"/>
<circle class="mk" cx="286.3" cy="538.5" r="1.2"/>
<circle class="mk" cx="315.56" cy="534.6" r="1.2"/>
<circle class="mk" cx="344.82" cy="536.8" r="1.2"/>
<circle class="mk" cx="374.08" cy="537.9" r="1.2"/>
<circle class="mk" cx="403.34" cy="538.8" r="1.2"/>
<circle class="mk" cx="432.6" cy="539.5" r="1.2"/>
<circle class="mk" cx="286.3" cy="534.4" r="1.2"/>
<circle class="mk" cx="315.56" cy="523.7" r="1.2"/>
<circle class="mk" cx="344.82" cy="523" r="1.2"/>
<circle class="mk" cx="374.08" cy="528.7" r="1.2"/>
<circle class="mk" cx="403.34" cy="536.3" r="1.2"/>
<circle class="mk" cx="432.6" cy="540" r="1.2"/>
<text class="lg it" x="391.6" y="463" textLength="54.1" lengthAdjust="spacingAndGlyphs">P. aeruginosa</text>
<text class="lg" x="391.6" y="469.4" textLength="34.2" lengthAdjust="spacingAndGlyphs">Negative</text>
<path class="ls" d="M382.6 460.8H389M382.6 467.2H389"/>
<circle class="mk" cx="385.8" cy="460.8" r="1.2"/><circle class="mk" cx="385.8" cy="467.2" r="1.2"/>
</g>
<g>
<text class="L" style="fill:#f0a050;stroke:#f0a050" transform="translate(476.42 456.3) scale(0.703 1)">L</text>
<text class="L" style="fill:#50b8f8;stroke:#50b8f8" transform="translate(477.62 456.3) scale(0.703 1)">L</text>
<text class="L" transform="translate(477.02 456.3) scale(0.703 1)">L</text>
<path class="ax" d="M504.85 457V544.55H681.8"/>
<path class="tk" d="M502.85 457H504.85M502.85 486.18H504.85M502.85 515.37H504.85M502.85 544.55H504.85M519.4 544.55V546.85M548.66 544.55V546.85M577.92 544.55V546.85M607.18 544.55V546.85M636.44 544.55V546.85M665.7 544.55V546.85"/>
<text class="yl" x="502.25" y="459.6" textLength="8.2" lengthAdjust="spacingAndGlyphs">1.5</text>
<text class="yl" x="502.25" y="488.78" textLength="8.2" lengthAdjust="spacingAndGlyphs">1.0</text>
<text class="yl" x="502.25" y="517.97" textLength="8.2" lengthAdjust="spacingAndGlyphs">0.5</text>
<text class="yl" x="502.25" y="547.15" textLength="8.2" lengthAdjust="spacingAndGlyphs">0.0</text>
<text class="xl" x="519.4" y="553.55" textLength="9.4" lengthAdjust="spacingAndGlyphs">100</text>
<text class="xl" x="548.66" y="553.55" textLength="6.3" lengthAdjust="spacingAndGlyphs">10</text>
<text class="xl" x="577.92" y="553.55" textLength="2.6" lengthAdjust="spacingAndGlyphs">1</text>
<text class="xl" x="607.18" y="553.55" textLength="7.2" lengthAdjust="spacingAndGlyphs">0.1</text>
<text class="xl" x="636.44" y="553.55" textLength="10.6" lengthAdjust="spacingAndGlyphs">0.01</text>
<text class="xl" x="665.7" y="553.55" textLength="14.3" lengthAdjust="spacingAndGlyphs">0.001</text>
<text class="xt" x="545" y="562.55" textLength="84" lengthAdjust="spacingAndGlyphs">Conditioned media (µg/ml)</text>
<text class="yt" transform="translate(489.15 499.77) rotate(-90)" x="0" y="0" textLength="46.6" lengthAdjust="spacingAndGlyphs">IgG (450 nm)</text>
<path class="dl" d="M519.4 531.9 L548.66 528 L577.92 528 L607.18 533 L636.44 537.2 L665.7 540.2"/>
<path class="sl" d="M519.4 520.6 L548.66 520.6 L577.92 527.6 L607.18 530.8 L636.44 531.2 L665.7 533.3"/>
<path class="eb" d="M607.18 529.8V534M605.98 529.8H608.38M605.98 534H608.38M636.44 529.1V533.3M635.24 529.1H637.64M635.24 533.3H637.64M665.7 531.6V535.8M664.5 531.6H666.9M664.5 535.8H666.9"/>
<circle class="mk" cx="519.4" cy="531.9" r="1.2"/>
<circle class="mk" cx="548.66" cy="528" r="1.2"/>
<circle class="mk" cx="577.92" cy="528" r="1.2"/>
<circle class="mk" cx="607.18" cy="533" r="1.2"/>
<circle class="mk" cx="636.44" cy="537.2" r="1.2"/>
<circle class="mk" cx="665.7" cy="540.2" r="1.2"/>
<circle class="mk" cx="519.4" cy="520.6" r="1.2"/>
<circle class="mk" cx="548.66" cy="520.6" r="1.2"/>
<circle class="mk" cx="577.92" cy="527.6" r="1.2"/>
<circle class="mk" cx="607.18" cy="530.8" r="1.2"/>
<circle class="mk" cx="636.44" cy="531.2" r="1.2"/>
<circle class="mk" cx="665.7" cy="533.3" r="1.2"/>
<text class="lg it" x="643.5" y="463.2" textLength="36.7" lengthAdjust="spacingAndGlyphs">S. aureus</text>
<text class="lg" x="643.5" y="469.5" textLength="34.6" lengthAdjust="spacingAndGlyphs">Negative</text>
<path class="ls" d="M634.2 461H640.7M634.2 467.3H640.7"/>
<circle class="mk" cx="637.45" cy="461" r="1.2"/><circle class="mk" cx="637.45" cy="467.3" r="1.2"/>
</g>
</g></svg></body></html>
